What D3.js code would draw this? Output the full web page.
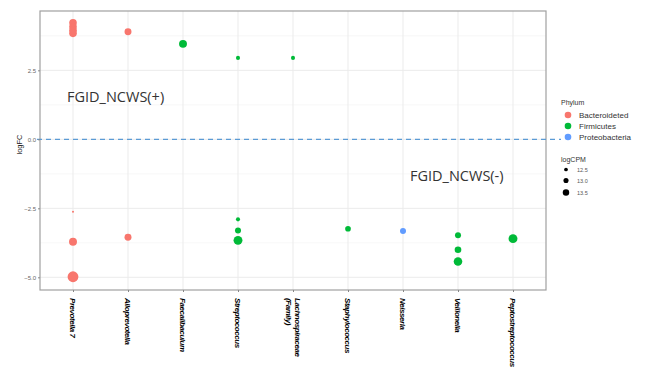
<!DOCTYPE html>
<html><head><meta charset="utf-8">
<script src="https://cdn.jsdelivr.net/npm/d3@7"></script>
<style>body{margin:0;background:#fff}svg{display:block}</style>
</head><body><svg id="c" width="649" height="368"></svg>
<script>
const categories = ["Prevotella 7","Alloprevotella","Faecalibaculum","Streptococcus","Lachnospiraceae (Family)","Staphylococcus","Neisseria","Veillonella","Peptostreptococcus"];
const pointGenus = ["Prevotella 7","Prevotella 7","Prevotella 7","Prevotella 7","Prevotella 7","Prevotella 7","Prevotella 7",
  "Alloprevotella","Alloprevotella","Faecalibaculum","Streptococcus","Streptococcus","Streptococcus","Streptococcus",
  "Lachnospiraceae (Family)","Staphylococcus","Neisseria","Veillonella","Veillonella","Veillonella","Peptostreptococcus"];
const pointLogFC = [4.22,4.08,3.95,3.84,-2.62,-3.71,-4.98,
  3.90,-3.55,3.46,2.95,-2.90,-3.30,-3.66,
  2.95,-3.24,-3.32,-3.48,-4.00,-4.43,-3.60];
const pointLogCPM = [13.5,13.5,13.5,13.5,11.75,13.6,14.5,
  13.3,13.3,13.6,12.4,12.4,13.0,13.9,
  12.4,12.9,13.0,13.0,13.2,13.8,13.9];
const pointPhylum = ["Bacteroideted","Bacteroideted","Bacteroideted","Bacteroideted","Bacteroideted","Bacteroideted","Bacteroideted",
  "Bacteroideted","Bacteroideted","Firmicutes","Firmicutes","Firmicutes","Firmicutes","Firmicutes",
  "Firmicutes","Firmicutes","Proteobacteria","Firmicutes","Firmicutes","Firmicutes","Firmicutes"];
const phyla = ["Bacteroideted","Firmicutes","Proteobacteria"];
const phylumColors = ["#F8766D","#00BA38","#619CFF"];
const yTicks = [2.5,0,-2.5,-5];
const yMinor = [3.75,1.25,-1.25,-3.75];
const sizeBreaks = [12.5,13.0,13.5];

const svg = d3.select("#c");
const L=40,R=546,T=11,B=290;
const x = d3.scalePoint().domain(categories).range([L,R]).padding(0.6);
const y = d3.scaleLinear().domain([-5.46,4.65]).range([B,T]);
const r = d3.scaleLinear().domain([11.75,14.56]).range([1,5.5]);
const col = d3.scaleOrdinal().domain(phyla).range(phylumColors);

const g = svg.append("g");
g.selectAll(".mn").data(yMinor).join("line").attr("x1",L).attr("x2",R)
 .attr("y1",d=>y(d)).attr("y2",d=>y(d)).attr("stroke","#f2f2f2").attr("stroke-width",0.6);
g.selectAll(".mj").data(yTicks).join("line").attr("x1",L).attr("x2",R)
 .attr("y1",d=>y(d)).attr("y2",d=>y(d)).attr("stroke","#ebebeb").attr("stroke-width",1);
g.selectAll(".vx").data(categories).join("line").attr("x1",d=>x(d)).attr("x2",d=>x(d))
 .attr("y1",T).attr("y2",B).attr("stroke","#ebebeb").attr("stroke-width",1);

const pts = pointLogFC.map((v,i)=>({g:pointGenus[i],v,c:pointLogCPM[i],p:pointPhylum[i]}));
g.selectAll("circle.pt").data(pts).join("circle").attr("class","pt")
 .attr("cx",d=>x(d.g)).attr("cy",d=>y(d.v)).attr("r",d=>r(d.c)).attr("fill",d=>col(d.p));

g.append("rect").attr("x",L).attr("y",T).attr("width",R-L).attr("height",B-T)
 .attr("fill","none").attr("stroke","#a0a0a0").attr("stroke-width",1.2);

g.append("line").attr("x1",L-3).attr("x2",561).attr("y1",y(0)).attr("y2",y(0))
 .attr("stroke","#5b9bd5").attr("stroke-width",1.3).attr("stroke-dasharray","5,4");

const ya = svg.append("g").attr("transform",`translate(${L},0)`)
 .call(d3.axisLeft(y).tickValues(yTicks).tickFormat(d3.format(".1f")).tickSize(2).tickPadding(2));
ya.select(".domain").remove();
ya.selectAll("line").attr("stroke","#888");
ya.selectAll("text").attr("fill","#666").style("font-family","Liberation Sans, Arial, sans-serif").style("font-size","6px");

const xa = svg.append("g").attr("transform",`translate(0,${B})`)
 .call(d3.axisBottom(x).tickSize(2).tickFormat(""));
xa.select(".domain").remove();
xa.selectAll("line").attr("stroke","#888");
const xl = svg.append("g");
categories.forEach(c=>{
  const parts = c.includes("(") ? [c.slice(0,c.indexOf(" (")), c.slice(c.indexOf(" (")+1)] : [c];
  const t = xl.append("text").attr("transform",`translate(${x(c)},${B+8}) rotate(90)`)
    .attr("font-family","Liberation Sans, Arial, sans-serif")
    .attr("font-size","8px").attr("font-style","italic").attr("font-weight","bold")
    .attr("letter-spacing","-0.45px").attr("fill","#000");
  const n = parts.length;
  parts.forEach((p,i)=>{
    t.append("tspan").attr("x",0).attr("y",(i-(n-1)/2)*9+3).text(p);
  });
});

svg.append("text").attr("transform",`translate(22,${(T+B)/2-6}) rotate(-90)`).attr("text-anchor","middle")
 .attr("font-family","Liberation Sans, Arial, sans-serif").attr("font-size","7.5px").attr("fill","#222").text("logFC");

svg.append("text").attr("x",67).attr("y",102).attr("font-family","Open Sans, Liberation Sans, sans-serif")
 .attr("font-size","14.5px").attr("fill","#333").text("FGID_NCWS(+)");
svg.append("text").attr("x",410).attr("y",181).attr("font-family","Open Sans, Liberation Sans, sans-serif")
 .attr("font-size","14.5px").attr("fill","#333").text("FGID_NCWS(-)");

const lg = svg.append("g");
lg.append("text").attr("x",561).attr("y",105).attr("font-family","Liberation Sans, Arial, sans-serif")
 .attr("font-size","7px").attr("fill","#333").text("Phylum");
phyla.forEach((p,i)=>{
  const yy = 115+i*11;
  lg.append("circle").attr("cx",568).attr("cy",yy).attr("r",3.3).attr("fill",col(p));
  lg.append("text").attr("x",579).attr("y",yy+3).attr("font-family","Liberation Sans, Arial, sans-serif")
   .attr("font-size","8px").attr("fill","#333").text(p);
});
lg.append("text").attr("x",561).attr("y",162).attr("font-family","Liberation Sans, Arial, sans-serif")
 .attr("font-size","7px").attr("fill","#333").text("logCPM");
sizeBreaks.forEach((s,i)=>{
  const yy = [169.5,180.5,192.5][i];
  lg.append("circle").attr("cx",566).attr("cy",yy).attr("r",r(s)*0.85).attr("fill","#000");
  lg.append("text").attr("x",577).attr("y",yy+2).attr("font-family","Liberation Sans, Arial, sans-serif")
   .attr("font-size","5.5px").attr("fill","#555").text(s.toFixed(1));
});
</script></body></html>
